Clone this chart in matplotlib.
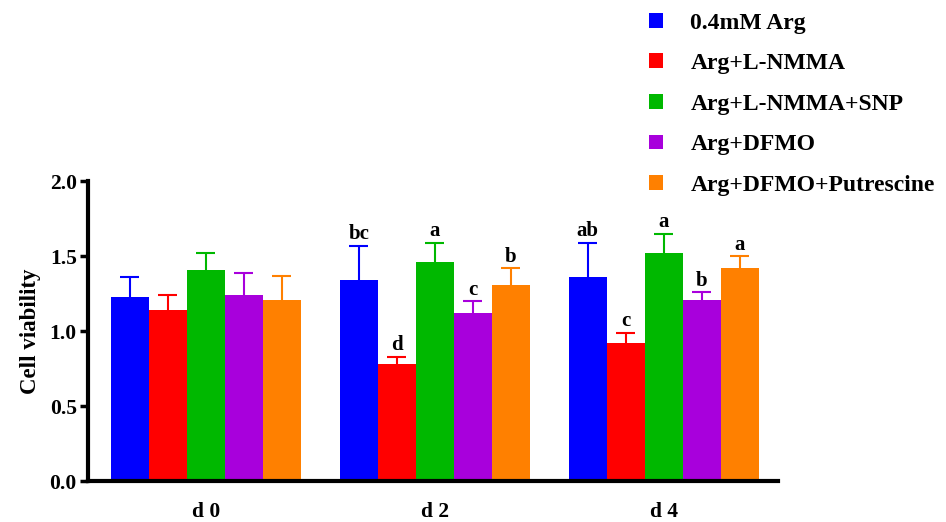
import numpy as np
import matplotlib.pyplot as plt

plt.rcParams['font.family'] = ['Liberation Serif', 'DejaVu Serif']
plt.rcParams['font.weight'] = 'bold'

days = ["d 0", "d 2", "d 4"]
groups = ["0.4mM Arg", "Arg+L-NMMA", "Arg+L-NMMA+SNP", "Arg+DFMO", "Arg+DFMO+Putrescine"]
colors = ["#0000FF", "#FF0000", "#00B800", "#A800DC", "#FF8000"]

# mean values per group (rows) for d0, d2, d4
means = [
    [1.23, 1.34, 1.36],
    [1.14, 0.78, 0.92],
    [1.41, 1.46, 1.52],
    [1.24, 1.12, 1.21],
    [1.21, 1.31, 1.42],
]
errs = [
    [0.13, 0.23, 0.23],
    [0.10, 0.05, 0.07],
    [0.11, 0.13, 0.13],
    [0.15, 0.08, 0.05],
    [0.16, 0.11, 0.08],
]
letters = [
    ["", "bc", "ab"],
    ["", "d", "c"],
    ["", "a", "a"],
    ["", "c", "b"],
    ["", "b", "a"],
]

fig = plt.figure(figsize=(9.46, 5.22), dpi=100)
ax = fig.add_axes([0.093, 0.0785, 0.729, 0.5745])

x = np.arange(len(days))
w = 0.166
cap = 0.042
for i, g in enumerate(groups):
    pos = x + (i - 2) * w
    m = np.array(means[i])
    e = np.array(errs[i])
    ax.bar(pos, m, width=w, color=colors[i], label=g, zorder=2)
    # upper error bars only
    ax.vlines(pos, m, m + e, color=colors[i], lw=1.5, zorder=1)
    ax.hlines(m + e, pos - cap, pos + cap, color=colors[i], lw=1.5, zorder=1)
    for j in range(len(days)):
        if letters[i][j]:
            ax.text(pos[j], m[j] + e[j] + 0.01, letters[i][j], ha="center", va="bottom",
                    fontsize=15, fontweight="bold")

ax.set_xlim(-0.515, 2.498)
ax.set_ylim(0, 2.0)
ax.set_yticks([0, 0.5, 1.0, 1.5, 2.0])
ax.set_yticklabels(["0.0", "0.5", "1.0", "1.5", "2.0"])
ax.set_xticks(x)
ax.set_xticklabels(days)
ax.tick_params(axis="x", length=0, pad=15, labelsize=15.5)
ax.tick_params(axis="y", length=6, width=2.5, labelsize=15.5, pad=2)
ax.set_ylabel("Cell viability", fontsize=16.5, fontweight="bold", labelpad=6)
for s in ["top", "right"]:
    ax.spines[s].set_visible(False)
for s in ["left", "bottom"]:
    ax.spines[s].set_linewidth(3)

fig.legend(loc="upper left", bbox_to_anchor=(0.686, 0.976), frameon=False,
           fontsize=17, handlelength=0.6, handleheight=0.6, handletextpad=1.15,
           labelspacing=0.83, borderpad=0, borderaxespad=0)

plt.savefig("out.png", dpi=100)
plt.close()
